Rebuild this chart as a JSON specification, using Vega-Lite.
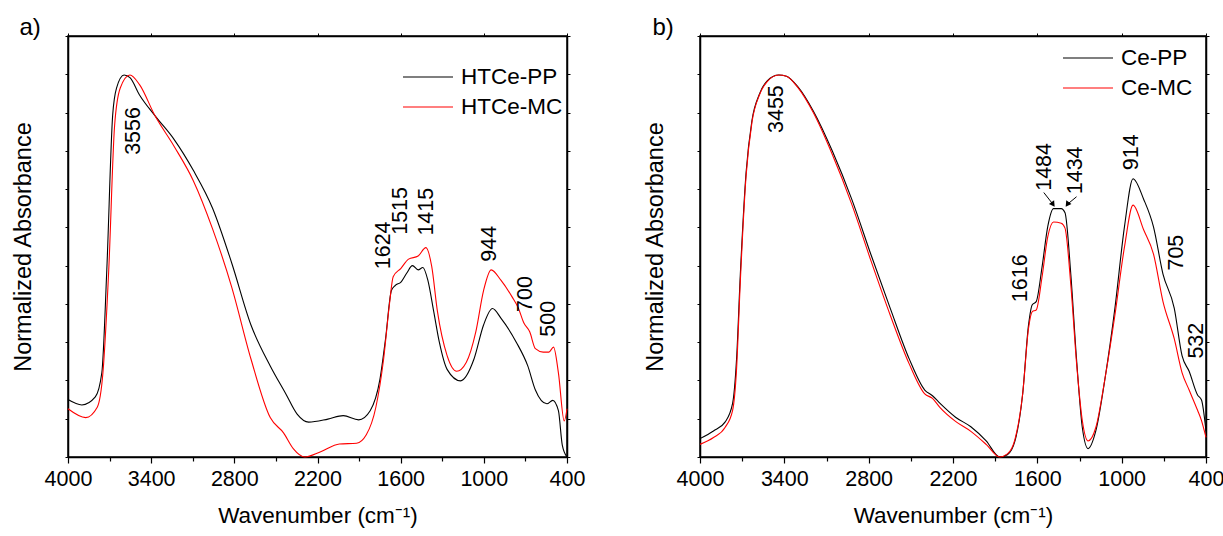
{
  "$schema": "https://vega.github.io/schema/vega-lite/v6.json",
  "padding": {"left": 10, "top": 14, "right": 5, "bottom": 0},
  "background": "white",
  "config": {
    "font": "Liberation Sans",
    "view": {"stroke": "black", "strokeWidth": 1.5},
    "axis": {"domainColor": "black", "domainWidth": 1.5, "tickColor": "black", "grid": false, "labelFont": "Liberation Sans", "titleFont": "Liberation Sans", "labelColor": "black", "titleColor": "black", "titleFontWeight": "normal"},
    "title": {"font": "Liberation Sans", "fontSize": 24, "fontWeight": "normal", "anchor": "start", "frame": "bounds", "color": "black"},
    "legend": {"labelFont": "Liberation Sans", "labelFontSize": 22.5, "labelColor": "black", "symbolType": "stroke", "symbolSize": 2500, "symbolStrokeWidth": 1.2, "clipHeight": 28, "labelOffset": 7, "padding": 0, "orient": "none"}
  },
  "datasets": {
    "specA": [
      {"s": "HTCe-PP", "w": 4000, "a": 1.50}, {"s": "HTCe-PP", "w": 3900, "a": 1.36}, {"s": "HTCe-PP", "w": 3803, "a": 1.57}, {"s": "HTCe-PP", "w": 3756, "a": 2.2}, {"s": "HTCe-PP", "w": 3720, "a": 4.89}, {"s": "HTCe-PP", "w": 3678, "a": 8.92}, {"s": "HTCe-PP", "w": 3650, "a": 9.64}, {"s": "HTCe-PP", "w": 3595, "a": 9.98}, {"s": "HTCe-PP", "w": 3553, "a": 9.91}, {"s": "HTCe-PP", "w": 3484, "a": 9.46}, {"s": "HTCe-PP", "w": 3373, "a": 8.92}, {"s": "HTCe-PP", "w": 3235, "a": 8.30}, {"s": "HTCe-PP", "w": 3096, "a": 7.49}, {"s": "HTCe-PP", "w": 2957, "a": 6.50}, {"s": "HTCe-PP", "w": 2819, "a": 5.07}, {"s": "HTCe-PP", "w": 2680, "a": 3.45}, {"s": "HTCe-PP", "w": 2541, "a": 2.38}, {"s": "HTCe-PP", "w": 2430, "a": 1.66}, {"s": "HTCe-PP", "w": 2347, "a": 1.12}, {"s": "HTCe-PP", "w": 2264, "a": 0.91}, {"s": "HTCe-PP", "w": 2125, "a": 0.99}, {"s": "HTCe-PP", "w": 2014, "a": 1.08}, {"s": "HTCe-PP", "w": 1903, "a": 0.97}, {"s": "HTCe-PP", "w": 1820, "a": 1.21}, {"s": "HTCe-PP", "w": 1750, "a": 2.02}, {"s": "HTCe-PP", "w": 1709, "a": 3.09}, {"s": "HTCe-PP", "w": 1667, "a": 4.35}, {"s": "HTCe-PP", "w": 1640, "a": 4.48}, {"s": "HTCe-PP", "w": 1598, "a": 4.57}, {"s": "HTCe-PP", "w": 1557, "a": 4.80}, {"s": "HTCe-PP", "w": 1515, "a": 5.0}, {"s": "HTCe-PP", "w": 1474, "a": 4.89}, {"s": "HTCe-PP", "w": 1440, "a": 4.95}, {"s": "HTCe-PP", "w": 1404, "a": 4.62}, {"s": "HTCe-PP", "w": 1362, "a": 3.81}, {"s": "HTCe-PP", "w": 1321, "a": 3.0}, {"s": "HTCe-PP", "w": 1265, "a": 2.29}, {"s": "HTCe-PP", "w": 1168, "a": 1.99}, {"s": "HTCe-PP", "w": 1071, "a": 2.56}, {"s": "HTCe-PP", "w": 1002, "a": 3.45}, {"s": "HTCe-PP", "w": 938, "a": 3.88}, {"s": "HTCe-PP", "w": 877, "a": 3.63}, {"s": "HTCe-PP", "w": 766, "a": 3.0}, {"s": "HTCe-PP", "w": 683, "a": 2.38}, {"s": "HTCe-PP", "w": 628, "a": 1.75}, {"s": "HTCe-PP", "w": 545, "a": 1.39}, {"s": "HTCe-PP", "w": 503, "a": 1.48}, {"s": "HTCe-PP", "w": 462, "a": 1.21}, {"s": "HTCe-PP", "w": 434, "a": 0.31}, {"s": "HTCe-PP", "w": 400, "a": 0.0},
      {"s": "HTCe-MC", "w": 4000, "a": 1.26}, {"s": "HTCe-MC", "w": 3872, "a": 1.03}, {"s": "HTCe-MC", "w": 3789, "a": 1.30}, {"s": "HTCe-MC", "w": 3748, "a": 2.2}, {"s": "HTCe-MC", "w": 3706, "a": 4.89}, {"s": "HTCe-MC", "w": 3664, "a": 8.65}, {"s": "HTCe-MC", "w": 3623, "a": 9.64}, {"s": "HTCe-MC", "w": 3553, "a": 9.98}, {"s": "HTCe-MC", "w": 3484, "a": 9.73}, {"s": "HTCe-MC", "w": 3373, "a": 8.92}, {"s": "HTCe-MC", "w": 3235, "a": 8.12}, {"s": "HTCe-MC", "w": 3096, "a": 7.22}, {"s": "HTCe-MC", "w": 2957, "a": 5.96}, {"s": "HTCe-MC", "w": 2819, "a": 4.44}, {"s": "HTCe-MC", "w": 2680, "a": 2.56}, {"s": "HTCe-MC", "w": 2541, "a": 1.03}, {"s": "HTCe-MC", "w": 2445, "a": 0.63}, {"s": "HTCe-MC", "w": 2375, "a": 0.22}, {"s": "HTCe-MC", "w": 2291, "a": 0.0}, {"s": "HTCe-MC", "w": 2181, "a": 0.13}, {"s": "HTCe-MC", "w": 2042, "a": 0.34}, {"s": "HTCe-MC", "w": 1918, "a": 0.36}, {"s": "HTCe-MC", "w": 1848, "a": 0.58}, {"s": "HTCe-MC", "w": 1779, "a": 1.30}, {"s": "HTCe-MC", "w": 1723, "a": 2.56}, {"s": "HTCe-MC", "w": 1681, "a": 3.99}, {"s": "HTCe-MC", "w": 1654, "a": 4.71}, {"s": "HTCe-MC", "w": 1598, "a": 4.93}, {"s": "HTCe-MC", "w": 1543, "a": 5.17}, {"s": "HTCe-MC", "w": 1474, "a": 5.25}, {"s": "HTCe-MC", "w": 1418, "a": 5.47}, {"s": "HTCe-MC", "w": 1376, "a": 4.98}, {"s": "HTCe-MC", "w": 1335, "a": 3.81}, {"s": "HTCe-MC", "w": 1265, "a": 2.65}, {"s": "HTCe-MC", "w": 1196, "a": 2.24}, {"s": "HTCe-MC", "w": 1127, "a": 2.47}, {"s": "HTCe-MC", "w": 1058, "a": 3.27}, {"s": "HTCe-MC", "w": 1002, "a": 4.35}, {"s": "HTCe-MC", "w": 947, "a": 4.89}, {"s": "HTCe-MC", "w": 877, "a": 4.62}, {"s": "HTCe-MC", "w": 794, "a": 4.17}, {"s": "HTCe-MC", "w": 752, "a": 3.9}, {"s": "HTCe-MC", "w": 711, "a": 3.50}, {"s": "HTCe-MC", "w": 669, "a": 3.27}, {"s": "HTCe-MC", "w": 628, "a": 2.83}, {"s": "HTCe-MC", "w": 572, "a": 2.74}, {"s": "HTCe-MC", "w": 531, "a": 2.74}, {"s": "HTCe-MC", "w": 497, "a": 2.87}, {"s": "HTCe-MC", "w": 462, "a": 2.2}, {"s": "HTCe-MC", "w": 420, "a": 0.94}, {"s": "HTCe-MC", "w": 400, "a": 1.26}
    ],
    "specB": [
      {"s": "Ce-PP", "w": 4000, "a": 0.48}, {"s": "Ce-PP", "w": 3904, "a": 0.68}, {"s": "Ce-PP", "w": 3822, "a": 0.91}, {"s": "Ce-PP", "w": 3768, "a": 1.40}, {"s": "Ce-PP", "w": 3740, "a": 2.55}, {"s": "Ce-PP", "w": 3713, "a": 4.78}, {"s": "Ce-PP", "w": 3672, "a": 7.44}, {"s": "Ce-PP", "w": 3631, "a": 8.78}, {"s": "Ce-PP", "w": 3576, "a": 9.49}, {"s": "Ce-PP", "w": 3522, "a": 9.83}, {"s": "Ce-PP", "w": 3440, "a": 9.98}, {"s": "Ce-PP", "w": 3385, "a": 9.95}, {"s": "Ce-PP", "w": 3303, "a": 9.67}, {"s": "Ce-PP", "w": 3194, "a": 9.04}, {"s": "Ce-PP", "w": 3057, "a": 7.98}, {"s": "Ce-PP", "w": 2920, "a": 6.73}, {"s": "Ce-PP", "w": 2784, "a": 5.29}, {"s": "Ce-PP", "w": 2647, "a": 3.89}, {"s": "Ce-PP", "w": 2510, "a": 2.55}, {"s": "Ce-PP", "w": 2401, "a": 1.75}, {"s": "Ce-PP", "w": 2346, "a": 1.60}, {"s": "Ce-PP", "w": 2292, "a": 1.40}, {"s": "Ce-PP", "w": 2182, "a": 1.04}, {"s": "Ce-PP", "w": 2073, "a": 0.79}, {"s": "Ce-PP", "w": 1964, "a": 0.42}, {"s": "Ce-PP", "w": 1868, "a": 0.0}, {"s": "Ce-PP", "w": 1813, "a": 0.06}, {"s": "Ce-PP", "w": 1759, "a": 0.42}, {"s": "Ce-PP", "w": 1704, "a": 1.66}, {"s": "Ce-PP", "w": 1663, "a": 3.44}, {"s": "Ce-PP", "w": 1636, "a": 3.98}, {"s": "Ce-PP", "w": 1608, "a": 4.06}, {"s": "Ce-PP", "w": 1567, "a": 4.95}, {"s": "Ce-PP", "w": 1526, "a": 6.02}, {"s": "Ce-PP", "w": 1485, "a": 6.49}, {"s": "Ce-PP", "w": 1430, "a": 6.49}, {"s": "Ce-PP", "w": 1403, "a": 6.38}, {"s": "Ce-PP", "w": 1362, "a": 4.78}, {"s": "Ce-PP", "w": 1321, "a": 2.55}, {"s": "Ce-PP", "w": 1280, "a": 0.77}, {"s": "Ce-PP", "w": 1239, "a": 0.22}, {"s": "Ce-PP", "w": 1184, "a": 0.68}, {"s": "Ce-PP", "w": 1116, "a": 2.11}, {"s": "Ce-PP", "w": 1048, "a": 3.89}, {"s": "Ce-PP", "w": 980, "a": 6.02}, {"s": "Ce-PP", "w": 919, "a": 7.27}, {"s": "Ce-PP", "w": 843, "a": 6.73}, {"s": "Ce-PP", "w": 774, "a": 6.02}, {"s": "Ce-PP", "w": 706, "a": 4.78}, {"s": "Ce-PP", "w": 626, "a": 3.89}, {"s": "Ce-PP", "w": 570, "a": 2.64}, {"s": "Ce-PP", "w": 520, "a": 2.24}, {"s": "Ce-PP", "w": 460, "a": 1.62}, {"s": "Ce-PP", "w": 432, "a": 1.49}, {"s": "Ce-PP", "w": 400, "a": 0.68},
      {"s": "Ce-MC", "w": 4000, "a": 0.33}, {"s": "Ce-MC", "w": 3904, "a": 0.51}, {"s": "Ce-MC", "w": 3822, "a": 0.77}, {"s": "Ce-MC", "w": 3768, "a": 1.22}, {"s": "Ce-MC", "w": 3740, "a": 2.29}, {"s": "Ce-MC", "w": 3713, "a": 4.6}, {"s": "Ce-MC", "w": 3672, "a": 7.35}, {"s": "Ce-MC", "w": 3631, "a": 8.73}, {"s": "Ce-MC", "w": 3576, "a": 9.47}, {"s": "Ce-MC", "w": 3522, "a": 9.81}, {"s": "Ce-MC", "w": 3440, "a": 9.98}, {"s": "Ce-MC", "w": 3385, "a": 9.95}, {"s": "Ce-MC", "w": 3303, "a": 9.65}, {"s": "Ce-MC", "w": 3194, "a": 9.0}, {"s": "Ce-MC", "w": 3057, "a": 7.89}, {"s": "Ce-MC", "w": 2920, "a": 6.6}, {"s": "Ce-MC", "w": 2784, "a": 5.13}, {"s": "Ce-MC", "w": 2647, "a": 3.71}, {"s": "Ce-MC", "w": 2510, "a": 2.42}, {"s": "Ce-MC", "w": 2401, "a": 1.65}, {"s": "Ce-MC", "w": 2346, "a": 1.53}, {"s": "Ce-MC", "w": 2292, "a": 1.29}, {"s": "Ce-MC", "w": 2182, "a": 0.93}, {"s": "Ce-MC", "w": 2073, "a": 0.67}, {"s": "Ce-MC", "w": 1964, "a": 0.33}, {"s": "Ce-MC", "w": 1868, "a": 0.0}, {"s": "Ce-MC", "w": 1813, "a": 0.08}, {"s": "Ce-MC", "w": 1759, "a": 0.46}, {"s": "Ce-MC", "w": 1704, "a": 1.66}, {"s": "Ce-MC", "w": 1663, "a": 3.35}, {"s": "Ce-MC", "w": 1636, "a": 3.80}, {"s": "Ce-MC", "w": 1608, "a": 3.84}, {"s": "Ce-MC", "w": 1567, "a": 4.69}, {"s": "Ce-MC", "w": 1526, "a": 5.75}, {"s": "Ce-MC", "w": 1485, "a": 6.14}, {"s": "Ce-MC", "w": 1430, "a": 6.11}, {"s": "Ce-MC", "w": 1403, "a": 5.98}, {"s": "Ce-MC", "w": 1362, "a": 4.51}, {"s": "Ce-MC", "w": 1321, "a": 2.46}, {"s": "Ce-MC", "w": 1280, "a": 0.95}, {"s": "Ce-MC", "w": 1239, "a": 0.42}, {"s": "Ce-MC", "w": 1184, "a": 0.77}, {"s": "Ce-MC", "w": 1116, "a": 2.11}, {"s": "Ce-MC", "w": 1048, "a": 3.71}, {"s": "Ce-MC", "w": 980, "a": 5.49}, {"s": "Ce-MC", "w": 919, "a": 6.58}, {"s": "Ce-MC", "w": 843, "a": 5.93}, {"s": "Ce-MC", "w": 774, "a": 5.31}, {"s": "Ce-MC", "w": 706, "a": 4.06}, {"s": "Ce-MC", "w": 626, "a": 3.09}, {"s": "Ce-MC", "w": 570, "a": 2.2}, {"s": "Ce-MC", "w": 520, "a": 1.75}, {"s": "Ce-MC", "w": 460, "a": 1.22}, {"s": "Ce-MC", "w": 432, "a": 0.95}, {"s": "Ce-MC", "w": 400, "a": 0.51}
    ],
    "labA": [
      {"t": "3556", "w": 3526, "a": 8.52}, {"t": "1624", "w": 1723, "a": 5.53}, {"t": "1515", "w": 1598, "a": 6.43}, {"t": "1415", "w": 1410, "a": 6.41}, {"t": "944", "w": 952, "a": 5.57}, {"t": "700", "w": 697, "a": 4.26}, {"t": "500", "w": 530, "a": 3.61}
    ],
    "labB": [
      {"t": "3455", "w": 3453, "a": 9.09}, {"t": "1616", "w": 1718, "a": 4.67}, {"t": "1484", "w": 1548, "a": 7.58}, {"t": "1434", "w": 1327, "a": 7.49}, {"t": "914", "w": 928, "a": 7.96}, {"t": "705", "w": 608, "a": 5.34}, {"t": "532", "w": 466, "a": 3.04}
    ],
    "arrB": [
      {"t": "1484", "w": 1554, "a": 6.91, "w2": 1488, "a2": 6.6},
      {"t": "1434", "w": 1321, "a": 6.8, "w2": 1387, "a2": 6.6}
    ]
  },
  "resolve": {"scale": {"color": "independent"}, "legend": {"color": "independent"}},
  "spacing": 56,
  "hconcat": [
    {
      "width": 499,
      "height": 421,
      "title": {"text": "a)", "dx": 8, "offset": -7},
      "layer": [
        {
          "data": {"name": "specA"},
          "mark": {"type": "line", "strokeWidth": 1.1, "interpolate": "monotone"},
          "encoding": {
            "x": {"field": "w", "type": "quantitative", "scale": {"domain": [4000, 400], "nice": false, "zero": false},
                  "axis": {"title": "Wavenumber (cm⁻¹)", "titleFontSize": 22.5, "titlePadding": 15, "labelFontSize": 21.5, "labelPadding": 5, "labelFlush": false, "labelOverlap": false, "format": "d",
                           "values": [4000, 3700, 3400, 3100, 2800, 2500, 2200, 1900, 1600, 1300, 1000, 700, 400],
                           "labelExpr": "datum.value % 600 == 400 ? datum.label : ''",
                           "tickSize": {"condition": {"test": "datum.value % 600 == 400", "value": 6}, "value": 4}, "tickWidth": 1.2}},
            "y": {"field": "a", "type": "quantitative", "scale": {"domain": [0, 11], "nice": false, "zero": false},
                  "axis": {"title": "Normalized Absorbance", "titleFontSize": 23.5, "titlePadding": 29, "labels": false, "tickSize": 3, "values": [0,1,2,3,4,5,6,7,8,9,10,11]}},
            "color": {"field": "s", "type": "nominal", "scale": {"domain": ["HTCe-PP", "HTCe-MC"], "range": ["#000000", "#ff0000"]},
                      "legend": {"title": null, "legendX": 334, "legendY": 27}}
          }
        },
        {
          "data": {"name": "labA"},
          "mark": {"type": "text", "angle": 270, "align": "center", "baseline": "middle", "fontSize": 21.5, "font": "Liberation Sans", "color": "black"},
          "encoding": {
            "x": {"field": "w", "type": "quantitative", "scale": {"domain": [4000, 400], "nice": false, "zero": false},
                  "axis": {"orient": "top", "title": null, "labels": false, "tickSize": 3, "values": [4000, 3400, 2800, 2200, 1600, 1000, 400]}},
            "y": {"field": "a", "type": "quantitative", "scale": {"domain": [0, 11], "nice": false, "zero": false},
                  "axis": {"orient": "right", "title": null, "labels": false, "tickSize": 3, "values": [0,1,2,3,4,5,6,7,8,9,10,11]}},
            "text": {"field": "t"}
          }
        }
      ],
      "resolve": {"axis": {"x": "independent", "y": "independent"}}
    },
    {
      "width": 506,
      "height": 421,
      "title": {"text": "b)", "dx": 9, "offset": -7},
      "layer": [
        {
          "data": {"name": "specB"},
          "mark": {"type": "line", "strokeWidth": 1.1, "interpolate": "monotone"},
          "encoding": {
            "x": {"field": "w", "type": "quantitative", "scale": {"domain": [4000, 400], "nice": false, "zero": false},
                  "axis": {"title": "Wavenumber (cm⁻¹)", "titleFontSize": 22.5, "titlePadding": 15, "labelFontSize": 21.5, "labelPadding": 5, "labelFlush": false, "labelOverlap": false, "format": "d",
                           "values": [4000, 3700, 3400, 3100, 2800, 2500, 2200, 1900, 1600, 1300, 1000, 700, 400],
                           "labelExpr": "datum.value % 600 == 400 ? datum.label : ''",
                           "tickSize": {"condition": {"test": "datum.value % 600 == 400", "value": 6}, "value": 4}, "tickWidth": 1.2}},
            "y": {"field": "a", "type": "quantitative", "scale": {"domain": [0, 11], "nice": false, "zero": false},
                  "axis": {"title": "Normalized Absorbance", "titleFontSize": 23.5, "titlePadding": 29, "labels": false, "tickSize": 3, "values": [0,1,2,3,4,5,6,7,8,9,10,11]}},
            "color": {"field": "s", "type": "nominal", "scale": {"domain": ["Ce-PP", "Ce-MC"], "range": ["#000000", "#ff0000"]},
                      "legend": {"title": null, "legendX": 362, "legendY": 8}}
          }
        },
        {
          "data": {"name": "labB"},
          "mark": {"type": "text", "angle": 270, "align": "center", "baseline": "middle", "fontSize": 21.5, "font": "Liberation Sans", "color": "black"},
          "encoding": {
            "x": {"field": "w", "type": "quantitative", "scale": {"domain": [4000, 400], "nice": false, "zero": false},
                  "axis": {"orient": "top", "title": null, "labels": false, "tickSize": 3, "values": [4000, 3400, 2800, 2200, 1600, 1000, 400]}},
            "y": {"field": "a", "type": "quantitative", "scale": {"domain": [0, 11], "nice": false, "zero": false},
                  "axis": {"orient": "right", "title": null, "labels": false, "tickSize": 3, "values": [0,1,2,3,4,5,6,7,8,9,10,11]}},
            "text": {"field": "t"}
          }
        },
        {
          "data": {"name": "arrB"},
          "mark": {"type": "rule", "color": "black", "strokeWidth": 1},
          "encoding": {
            "x": {"field": "w", "type": "quantitative", "scale": {"domain": [4000, 400], "nice": false, "zero": false}, "axis": null},
            "y": {"field": "a", "type": "quantitative", "scale": {"domain": [0, 11], "nice": false, "zero": false}, "axis": null},
            "x2": {"field": "w2"},
            "y2": {"field": "a2"}
          }
        },
        {
          "data": {"name": "arrB"},
          "transform": [{"filter": "datum.t == '1484'"}],
          "mark": {"type": "point", "shape": "triangle-down", "angle": 325, "size": 40, "filled": true, "color": "black", "opacity": 1},
          "encoding": {
            "x": {"field": "w2", "type": "quantitative", "scale": {"domain": [4000, 400], "nice": false, "zero": false}, "axis": null},
            "y": {"field": "a2", "type": "quantitative", "scale": {"domain": [0, 11], "nice": false, "zero": false}, "axis": null}
          }
        },
        {
          "data": {"name": "arrB"},
          "transform": [{"filter": "datum.t == '1434'"}],
          "mark": {"type": "point", "shape": "triangle-down", "angle": 35, "size": 40, "filled": true, "color": "black", "opacity": 1},
          "encoding": {
            "x": {"field": "w2", "type": "quantitative", "scale": {"domain": [4000, 400], "nice": false, "zero": false}, "axis": null},
            "y": {"field": "a2", "type": "quantitative", "scale": {"domain": [0, 11], "nice": false, "zero": false}, "axis": null}
          }
        }
      ],
      "resolve": {"axis": {"x": "independent", "y": "independent"}}
    }
  ]
}
